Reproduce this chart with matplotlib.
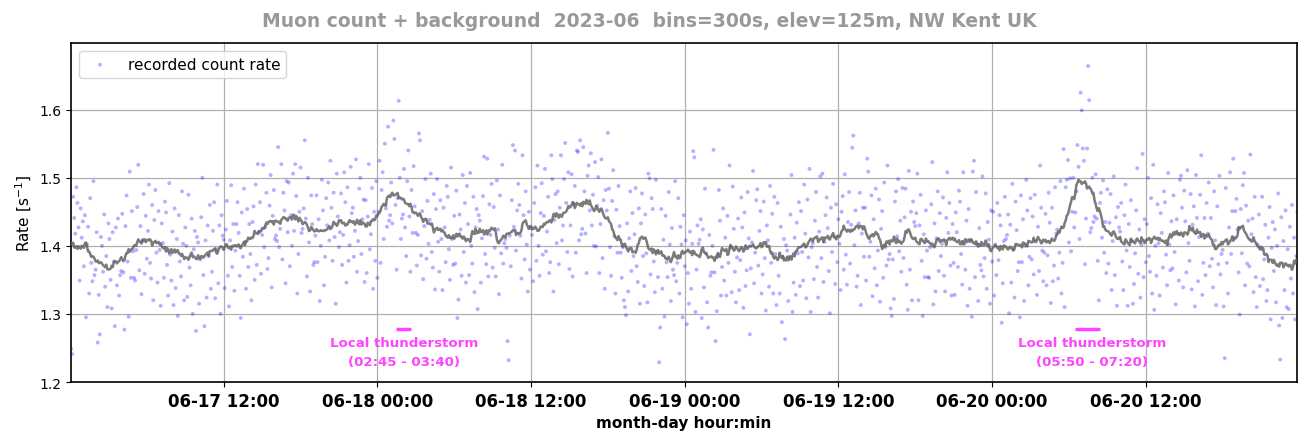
import numpy as np
import pandas as pd
import matplotlib
matplotlib.use("Agg")
import matplotlib.pyplot as plt
import matplotlib.dates as mdates

# recorded count rate in milli-counts per second, 5-minute bins
rate_0617 = [
    1249, 1241, 1472, 1441, 1418, 1486, 1463, 1427, 1349, 1455, 1412, 1436,
    1370, 1445, 1295, 1402, 1428, 1330, 1470, 1375, 1348, 1495, 1357, 1365,
    1420, 1258, 1328, 1270, 1413, 1400, 1362, 1446, 1340, 1385, 1310, 1433,
    1410, 1350, 1308, 1420, 1377, 1282, 1427, 1342, 1440, 1327, 1357, 1363,
    1447, 1361, 1277, 1429, 1474, 1377, 1296, 1509, 1353, 1451, 1392, 1353,
    1349, 1394, 1457, 1519, 1364, 1429, 1329, 1407, 1476, 1359, 1444, 1381,
    1422, 1490, 1375, 1352, 1460, 1320, 1438, 1482, 1390, 1346, 1451, 1394,
    1312, 1433, 1404, 1353, 1465, 1449, 1372, 1327, 1492, 1387, 1349, 1421,
    1313, 1455, 1338, 1410, 1297, 1445, 1377, 1355, 1480, 1403, 1320, 1427,
    1400, 1325, 1475, 1368, 1342, 1440, 1300, 1395, 1422, 1275, 1413, 1405,
    1315, 1380, 1442, 1500, 1357, 1282, 1408, 1324, 1430, 1385, 1460, 1337,
    1362, 1422, 1464, 1323, 1395, 1490, 1345, 1430, 1300, 1445, 1415, 1409,
    1338, 1424, 1466, 1356, 1311, 1408, 1489, 1369, 1432, 1334, 1393, 1432,
    1464, 1419, 1356, 1294, 1449, 1384, 1484, 1406, 1337, 1454, 1369, 1432,
    1388, 1320, 1435, 1458, 1350, 1490, 1372, 1520, 1420, 1464, 1359, 1416,
    1519, 1398, 1427, 1478, 1366, 1382, 1459, 1504, 1339, 1444, 1482, 1410,
    1415, 1407, 1545, 1398, 1425, 1520, 1380, 1478, 1452, 1345, 1495, 1420,
    1493, 1370, 1445, 1400, 1506, 1422, 1520, 1473, 1330, 1388, 1450, 1515,
    1419, 1425, 1455, 1555, 1440, 1355, 1500, 1405, 1333, 1474, 1432, 1372,
    1376, 1415, 1474, 1376, 1439, 1319, 1400, 1497, 1452, 1342, 1384, 1470,
    1430, 1493, 1408, 1525, 1456, 1378, 1478, 1413, 1315, 1506, 1443, 1398,
    1420, 1477, 1372, 1416, 1508, 1464, 1346, 1486, 1378, 1401, 1516, 1448,
    1456, 1384, 1422, 1527, 1362, 1407, 1484, 1500, 1388, 1439, 1468, 1347,
    1467, 1360, 1443, 1520, 1395, 1417, 1485, 1337, 1450, 1378, 1495, 1353,
]
rate_0618 = [
    1450, 1525, 1375, 1482, 1508, 1410, 1550, 1455, 1428, 1575, 1437, 1445,
    1493, 1433, 1584, 1557, 1460, 1365, 1470, 1613, 1500, 1410, 1440, 1446,
    1513, 1427, 1385, 1495, 1540, 1443, 1362, 1482, 1419, 1517, 1458, 1419,
    1371, 1416, 1565, 1555, 1386, 1451, 1351, 1429, 1498, 1381, 1466, 1403,
    1438, 1506, 1391, 1368, 1476, 1336, 1454, 1498, 1406, 1362, 1467, 1410,
    1335, 1456, 1427, 1376, 1488, 1472, 1395, 1350, 1515, 1410, 1372, 1444,
    1374, 1481, 1294, 1321, 1446, 1424, 1356, 1504, 1391, 1463, 1346, 1488,
    1432, 1357, 1507, 1400, 1374, 1472, 1332, 1427, 1454, 1307, 1445, 1437,
    1346, 1411, 1473, 1531, 1388, 1373, 1528, 1355, 1461, 1416, 1491, 1368,
    1457, 1397, 1355, 1496, 1424, 1329, 1474, 1389, 1519, 1374, 1404, 1410,
    1397, 1260, 1232, 1415, 1370, 1467, 1548, 1428, 1540, 1393, 1452, 1491,
    1460, 1415, 1352, 1533, 1445, 1380, 1480, 1402, 1333, 1450, 1365, 1428,
    1416, 1348, 1463, 1486, 1378, 1518, 1400, 1356, 1448, 1492, 1387, 1444,
    1513, 1392, 1421, 1472, 1360, 1376, 1533, 1498, 1333, 1438, 1476, 1404,
    1480, 1373, 1456, 1533, 1408, 1430, 1498, 1551, 1463, 1391, 1508, 1366,
    1430, 1505, 1355, 1462, 1488, 1390, 1540, 1538, 1408, 1555, 1417, 1425,
    1545, 1480, 1418, 1360, 1503, 1518, 1452, 1536, 1430, 1475, 1400, 1523,
    1399, 1459, 1501, 1360, 1432, 1527, 1382, 1467, 1337, 1482, 1452, 1566,
    1484, 1398, 1356, 1466, 1511, 1414, 1330, 1453, 1390, 1488, 1429, 1390,
    1353, 1398, 1320, 1310, 1298, 1433, 1333, 1411, 1480, 1363, 1448, 1385,
    1417, 1485, 1370, 1347, 1455, 1315, 1433, 1477, 1385, 1341, 1446, 1389,
    1317, 1506, 1499, 1358, 1470, 1454, 1377, 1332, 1497, 1392, 1354, 1229,
    1280, 1454, 1337, 1409, 1296, 1444, 1376, 1354, 1479, 1402, 1319, 1426,
    1365, 1357, 1495, 1348, 1375, 1470, 1330, 1428, 1402, 1295, 1445, 1370,
]
rate_0619 = [
    1408, 1285, 1360, 1315, 1421, 1337, 1403, 1539, 1530, 1303, 1365, 1430,
    1403, 1409, 1439, 1294, 1424, 1339, 1484, 1389, 1317, 1280, 1416, 1356,
    1361, 1400, 1541, 1361, 1260, 1304, 1385, 1482, 1437, 1327, 1369, 1455,
    1349, 1412, 1327, 1444, 1375, 1518, 1397, 1332, 1487, 1425, 1362, 1317,
    1383, 1440, 1335, 1379, 1471, 1427, 1309, 1449, 1341, 1364, 1479, 1411,
    1270, 1367, 1405, 1510, 1345, 1390, 1467, 1483, 1371, 1422, 1451, 1330,
    1358, 1465, 1382, 1305, 1430, 1408, 1340, 1488, 1375, 1447, 1330, 1472,
    1388, 1313, 1463, 1356, 1330, 1428, 1288, 1383, 1410, 1263, 1401, 1393,
    1319, 1384, 1446, 1504, 1303, 1346, 1412, 1328, 1434, 1389, 1464, 1341,
    1451, 1391, 1349, 1490, 1418, 1323, 1468, 1383, 1513, 1303, 1398, 1404,
    1351, 1437, 1479, 1369, 1324, 1421, 1502, 1382, 1506, 1347, 1406, 1445,
    1471, 1426, 1363, 1301, 1456, 1391, 1491, 1413, 1344, 1461, 1376, 1439,
    1403, 1335, 1450, 1473, 1365, 1505, 1387, 1343, 1435, 1479, 1374, 1431,
    1544, 1562, 1401, 1452, 1340, 1356, 1433, 1478, 1313, 1418, 1456, 1384,
    1456, 1349, 1528, 1509, 1384, 1406, 1474, 1326, 1439, 1367, 1484, 1342,
    1393, 1468, 1318, 1425, 1451, 1353, 1493, 1398, 1371, 1518, 1380, 1388,
    1308, 1297, 1380, 1322, 1465, 1480, 1414, 1498, 1392, 1437, 1362, 1485,
    1382, 1442, 1484, 1343, 1306, 1510, 1365, 1450, 1320, 1465, 1435, 1429,
    1448, 1506, 1320, 1430, 1475, 1378, 1297, 1417, 1354, 1452, 1393, 1354,
    1353, 1398, 1461, 1523, 1314, 1433, 1333, 1411, 1480, 1363, 1448, 1385,
    1403, 1471, 1356, 1333, 1441, 1508, 1419, 1463, 1371, 1327, 1432, 1375,
    1328, 1449, 1420, 1369, 1481, 1465, 1388, 1343, 1508, 1403, 1365, 1437,
    1312, 1454, 1337, 1409, 1296, 1509, 1525, 1354, 1479, 1402, 1319, 1426,
    1372, 1364, 1502, 1355, 1382, 1477, 1337, 1435, 1409, 1315, 1452, 1377,
]
rate_0620 = [
    1450, 1327, 1402, 1357, 1463, 1379, 1445, 1430, 1287, 1345, 1407, 1472,
    1410, 1416, 1446, 1301, 1431, 1346, 1491, 1396, 1324, 1465, 1423, 1363,
    1376, 1295, 1474, 1376, 1439, 1319, 1400, 1497, 1452, 1342, 1384, 1470,
    1380, 1443, 1358, 1475, 1406, 1328, 1428, 1363, 1518, 1456, 1393, 1348,
    1390, 1447, 1342, 1386, 1478, 1434, 1316, 1456, 1348, 1371, 1486, 1418,
    1424, 1352, 1390, 1495, 1330, 1375, 1542, 1310, 1486, 1497, 1526, 1405,
    1499, 1392, 1450, 1500, 1427, 1449, 1480, 1548, 1516, 1410, 1625, 1599,
    1543, 1525, 1373, 1440, 1543, 1664, 1614, 1420, 1426, 1500, 1435, 1443,
    1505, 1440, 1378, 1320, 1463, 1478, 1412, 1496, 1390, 1435, 1360, 1483,
    1374, 1434, 1476, 1335, 1407, 1502, 1357, 1442, 1312, 1457, 1427, 1421,
    1463, 1377, 1335, 1445, 1490, 1393, 1312, 1432, 1369, 1467, 1408, 1315,
    1344, 1389, 1452, 1514, 1359, 1424, 1324, 1402, 1535, 1354, 1439, 1376,
    1432, 1500, 1385, 1362, 1470, 1330, 1519, 1306, 1400, 1356, 1461, 1404,
    1327, 1448, 1419, 1368, 1480, 1464, 1387, 1342, 1507, 1402, 1364, 1436,
    1367, 1474, 1391, 1314, 1439, 1417, 1349, 1497, 1503, 1456, 1339, 1481,
    1436, 1361, 1511, 1404, 1378, 1476, 1336, 1431, 1458, 1311, 1504, 1441,
    1348, 1413, 1475, 1533, 1328, 1375, 1441, 1357, 1463, 1418, 1493, 1370,
    1441, 1381, 1339, 1480, 1408, 1313, 1458, 1373, 1503, 1358, 1388, 1394,
    1311, 1235, 1485, 1375, 1330, 1427, 1508, 1388, 1451, 1528, 1412, 1451,
    1469, 1424, 1361, 1299, 1454, 1389, 1489, 1507, 1342, 1459, 1374, 1437,
    1370, 1534, 1417, 1440, 1332, 1472, 1354, 1310, 1402, 1446, 1341, 1398,
    1472, 1351, 1380, 1431, 1319, 1335, 1412, 1457, 1292, 1397, 1435, 1363,
    1424, 1317, 1400, 1477, 1283, 1233, 1442, 1294, 1407, 1335, 1452, 1310,
    1395, 1307, 1428, 1352, 1460, 1330, 1412, 1292, 1385, 1450,
]

start_time = "2023-06-17 00:05"
bin_freq = "5min"
smooth_bins = 24

storm_starts = ["2023-06-18 01:26", "2023-06-20 06:28"]
storm_ends = ["2023-06-18 02:36", "2023-06-20 08:26"]
storm_level = 1.278
storm_label_times = ["2023-06-18 02:06", "2023-06-20 07:48"]
storm_labels = ["Local thunderstorm\n(02:45 - 03:40)",
                "Local thunderstorm\n(05:50 - 07:20)"]
storm_label_level = 1.244

title = "Muon count + background  2023-06  bins=300s, elev=125m, NW Kent UK"

rate = np.array(rate_0617 + rate_0618 + rate_0619 + rate_0620) / 1000.0
times = pd.date_range(start_time, periods=len(rate), freq=bin_freq)
smooth = pd.Series(rate).rolling(smooth_bins, center=True, min_periods=1).mean()

fig = plt.figure(figsize=(12.99, 4.35), dpi=100)
ax = fig.add_axes([0.0547, 0.1195, 0.944, 0.7795])

ax.scatter(times, rate, s=8, color="blue", alpha=0.3, edgecolors="none",
           label="recorded count rate", zorder=2)
ax.plot(times, smooth, color="#5a5a5a", lw=1.8, alpha=0.8, zorder=3)

storm_color = "#ff44ff"
for s, e, lt, lab in zip(storm_starts, storm_ends, storm_label_times, storm_labels):
    ax.plot([pd.Timestamp(s), pd.Timestamp(e)], [storm_level, storm_level],
            color=storm_color, lw=2.5, solid_capstyle="butt", zorder=4)
    ax.text(pd.Timestamp(lt), storm_label_level, lab, color=storm_color,
            fontsize=9.6, fontweight="bold", ha="center", va="center",
            linespacing=1.55, zorder=4)

ax.set_xlim(times[0], times[-1])
ax.set_ylim(1.2, 1.698)
ax.set_yticks([1.2, 1.3, 1.4, 1.5, 1.6])
ax.xaxis.set_major_locator(mdates.HourLocator(byhour=[0, 12]))
ax.xaxis.set_major_formatter(mdates.DateFormatter("%m-%d %H:%M"))
for lbl in ax.get_xticklabels():
    lbl.set_fontweight("bold")
    lbl.set_fontsize(12)
ax.tick_params(axis="y", labelsize=10)
ax.grid(True, color="#b0b0b0", lw=0.9)
ax.set_axisbelow(True)
for sp in ax.spines.values():
    sp.set_linewidth(1.2)

ax.set_xlabel("month-day hour:min", fontsize=11, fontweight="bold", labelpad=4)
ax.set_ylabel("Rate [s$^{-1}$]", fontsize=11)
ax.legend(loc="upper left", fontsize=11, scatterpoints=1, markerscale=1.0)

fig.suptitle(title, x=0.5, y=0.972, fontsize=13.5, fontweight="bold", color="#999999")

fig.savefig("out.png", dpi=100)
